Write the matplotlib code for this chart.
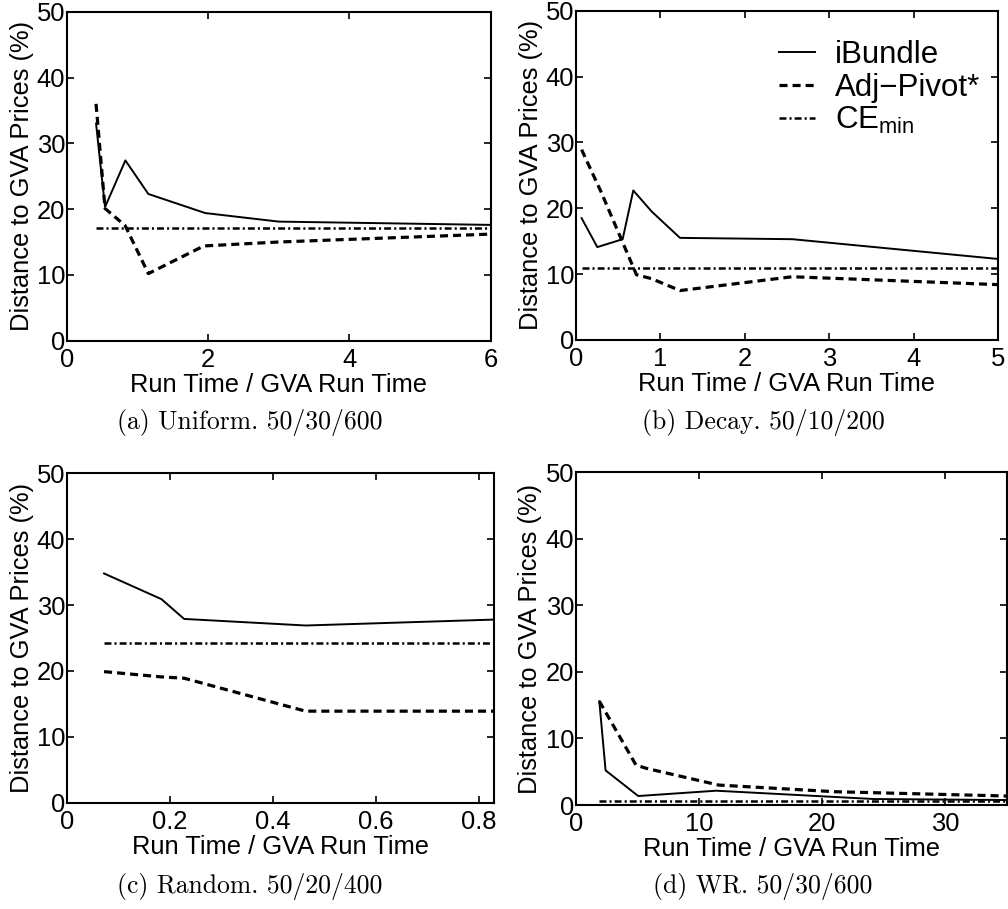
import matplotlib
matplotlib.use("Agg")
import matplotlib.pyplot as plt

# data
# (a) Uniform
a_ib_x = [0.415, 0.542, 0.83, 1.155, 1.96, 3.0, 6.0]
a_ib_y = [33.0, 20.3, 27.4, 22.3, 19.4, 18.1, 17.6]
a_ap_x = [0.415, 0.542, 0.826, 1.155, 1.94, 3.0, 6.0]
a_ap_y = [36.0, 20.1, 17.5, 10.2, 14.4, 15.0, 16.2]
a_ce_x = [0.415, 6.0]
a_ce_y = [17.1, 17.1]

# (b) Decay
b_ib_x = [0.07, 0.256, 0.556, 0.682, 0.9, 1.235, 2.565, 5.0]
b_ib_y = [18.5, 14.1, 15.3, 22.7, 19.5, 15.5, 15.3, 12.3]
b_ap_x = [0.07, 0.3, 0.72, 0.9, 1.235, 2.565, 5.0]
b_ap_y = [28.9, 22.5, 9.9, 9.3, 7.5, 9.6, 8.4]
b_ce_x = [0.07, 5.0]
b_ce_y = [11.0, 11.0]

# (c) Random
c_ib_x = [0.0725, 0.184, 0.228, 0.464, 0.83]
c_ib_y = [34.8, 30.9, 27.9, 26.9, 27.8]
c_ap_x = [0.0725, 0.184, 0.228, 0.464, 0.83]
c_ap_y = [19.9, 19.1, 18.9, 13.9, 13.9]
c_ce_x = [0.0725, 0.83]
c_ce_y = [24.3, 24.3]

# (d) WR
d_ib_x = [1.92, 2.43, 5.08, 11.4, 24.2, 35.0]
d_ib_y = [15.6, 5.2, 1.35, 2.15, 0.9, 0.75]
d_ap_x = [1.92, 4.9, 5.76, 11.6, 21.0, 35.0]
d_ap_y = [15.6, 6.0, 5.5, 3.0, 2.0, 1.35]
d_ce_x = [1.92, 35.0]
d_ce_y = [0.6, 0.6]

xlims = [6, 5, 0.83, 35]
xticks = [[0, 2, 4, 6], [0, 1, 2, 3, 4, 5], [0, 0.2, 0.4, 0.6, 0.8], [0, 10, 20, 30]]
xticklabels = [["0", "2", "4", "6"], ["0", "1", "2", "3", "4", "5"],
               ["0", "0.2", "0.4", "0.6", "0.8"], ["0", "10", "20", "30"]]
captions = ["(a) Uniform. 50/30/600", "(b) Decay. 50/10/200",
            "(c) Random. 50/20/400", "(d) WR. 50/30/600"]

plt.rcParams["font.family"] = ["Liberation Sans", "DejaVu Sans"]
plt.rcParams["lines.scale_dashes"] = False

fig = plt.figure(figsize=(10.08, 9.09), dpi=100)

# axes rectangles in figure fractions
rects = [[0.0662, 0.6252, 0.4206, 0.3619],
         [0.5711, 0.6260, 0.4190, 0.3623],
         [0.0662, 0.1169, 0.4239, 0.3624],
         [0.5711, 0.1144, 0.4276, 0.3660]]
series = [(a_ib_x, a_ib_y, a_ap_x, a_ap_y, a_ce_x, a_ce_y),
          (b_ib_x, b_ib_y, b_ap_x, b_ap_y, b_ce_x, b_ce_y),
          (c_ib_x, c_ib_y, c_ap_x, c_ap_y, c_ce_x, c_ce_y),
          (d_ib_x, d_ib_y, d_ap_x, d_ap_y, d_ce_x, d_ce_y)]
cap_pos = [(0.248, 0.5347), (0.757, 0.5347), (0.248, 0.0253), (0.757, 0.0253)]

for i in range(4):
    ax = fig.add_axes(rects[i])
    ibx, iby, apx, apy, cex, cey = series[i]
    ax.plot(ibx, iby, color="black", lw=1.4, label="iBundle")
    ax.plot(apx, apy, color="black", lw=2.3, linestyle=(0, (5.8, 3.6)),
            label="Adj\u2212Pivot*")
    ax.plot(cex, cey, color="black", lw=1.8, linestyle=(0, (5.0, 2.2, 1.5, 2.2)),
            label=r"CE$_\mathregular{min}$")

    ax.set_xlim(0, xlims[i])
    ax.set_ylim(0, 50)
    ax.set_xticks(xticks[i])
    ax.set_xticklabels(xticklabels[i])
    ax.set_yticks([0, 10, 20, 30, 40, 50])
    ax.tick_params(direction="in", length=5, width=1.2, top=True, right=True,
                   labelsize=18.4)
    ax.tick_params(axis="y", pad=1)
    ax.tick_params(axis="x", pad=5)
    for s in ax.spines.values():
        s.set_linewidth(1.5)
    ax.set_xlabel("Run Time / GVA Run Time", fontsize=18.4, labelpad=1)
    ax.set_ylabel("Distance to GVA Prices (%)", fontsize=18.4)
    ax.yaxis.set_label_coords(-0.077, 0.5)

    if i == 1:
        ax.legend(loc="upper left", bbox_to_anchor=(0.481, 0.91), frameon=False,
                  fontsize=22.5, handlelength=1.15, handletextpad=0.65,
                  borderpad=0, borderaxespad=0, labelspacing=0.08)

    fig.text(cap_pos[i][0], cap_pos[i][1], captions[i], family="cmr10",
             fontsize=18.5, ha="center", va="center")

plt.savefig("out.png", dpi=100)
